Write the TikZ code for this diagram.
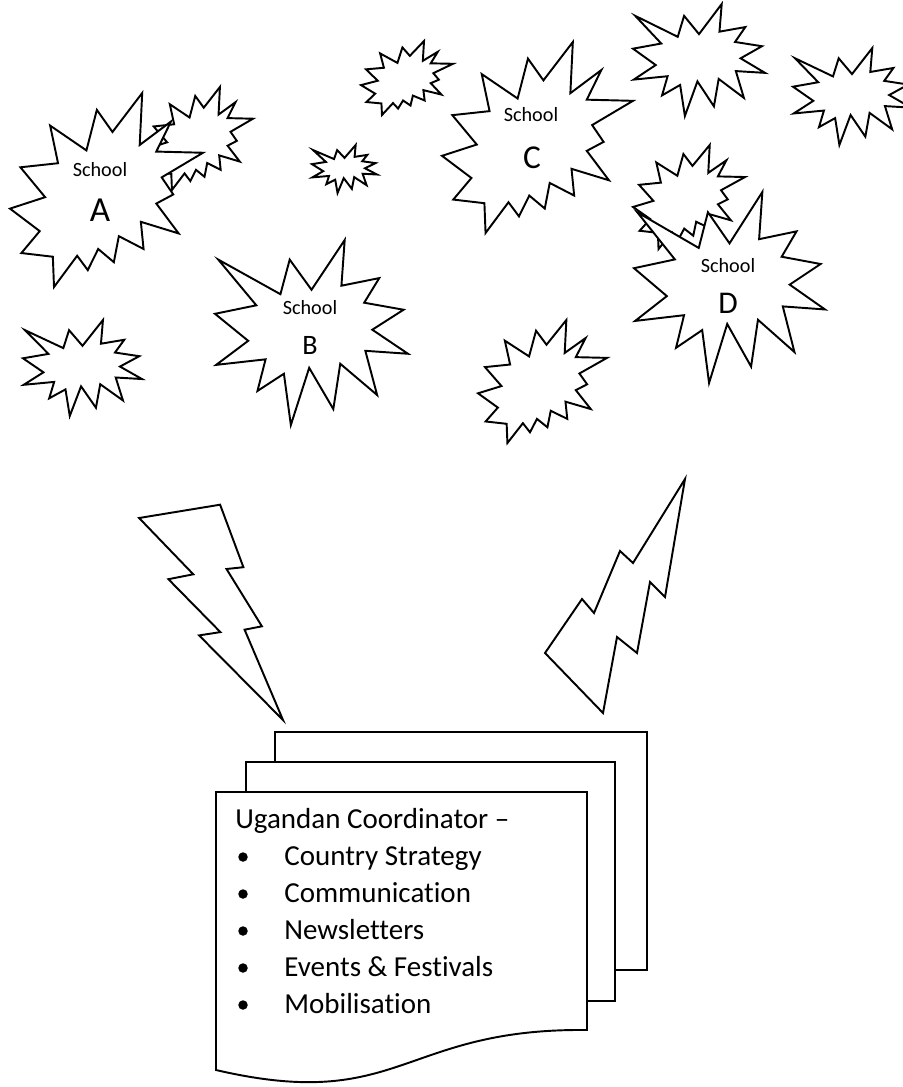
\documentclass[tikz,border=0pt]{standalone}
\usepackage{fontspec}
\setmainfont[Ligatures={TeX,NoCommon}]{Carlito}

% explosion shapes, drawn in a 100 x 100 box, then shifted and scaled
\newcommand{\burstone}[4]{%
	\begin{scope}[shift={(#1,#2)},xscale=#3/100,yscale=#4/100]
		\draw[burst] (50,26.9) -- (38.7,10.6) -- (33.9,29.3) -- (1.7,10.6) -- (21.4,35.3) -- (0,39.9)
			-- (17.2,54.5) -- (0.6,67.5) -- (26.2,64.5) -- (22,81.6) -- (35.7,72.3) -- (39.3,100)
			-- (48.8,69.1) -- (61.3,91.4) -- (64.9,66.9) -- (84,83.8) -- (77.9,59.9) -- (100,61.5)
			-- (81.5,48.5) -- (97.7,37.7) -- (77.3,33.9) -- (85.1,20.6) -- (65.5,24.7) -- (67.2,0) -- cycle;
	\end{scope}}
\newcommand{\bursttwo}[4]{%
	\begin{scope}[shift={(#1,#2)},xscale=#3/100,yscale=#4/100]
		\draw[burst] (53.1,20.1) -- (45,8.7) -- (39.6,29.6) -- (20.8,16.8) -- (24.9,36.2) -- (5.4,38.3)
			-- (18.2,53.7) -- (0,59.6) -- (15.4,71.2) -- (5.9,82.5) -- (22.2,84.4) -- (22.8,100)
			-- (34.8,83.9) -- (40.3,91.3) -- (45.7,80.4) -- (53.8,87.2) -- (56.4,73.8) -- (69.2,80.4)
			-- (67.8,66.4) -- (87.4,72.4) -- (75.8,57) -- (84.6,52.3) -- (78.6,43.5) -- (100,30.8)
			-- (75.8,30.2) -- (83.4,14.7) -- (67.2,26.8) -- (68.5,0) -- cycle;
	\end{scope}}

\begin{document}
\begin{tikzpicture}
	[x=0.02cm,y=-0.02cm,line cap=round,
	%Styles
	burst/.style={draw=black,fill=white,line width=1.1pt},
	bolt/.style={draw=black,fill=white,line width=1.1pt},
	page/.style={draw=black,fill=white,line width=1.1pt},
	school label/.style={inner sep=0pt,font=\fontsize{11.5}{14}\selectfont},
	letter label/.style={inner sep=0pt,font=\fontsize{#1}{#1}\selectfont},
	list text/.style={inner sep=0pt,anchor=base west,font=\fontsize{16.5}{20}\selectfont},
	bulletdot/.style={circle,fill=black,inner sep=0pt,minimum size=0.19cm}
	]
	\useasboundingbox (0,0) rectangle (902,1087);

	%The schools
	\bursttwo{148}{87}{105}{103}
	\bursttwo{10}{93}{193}{194}
	\burstone{312}{145}{65}{48}
	\bursttwo{361}{41}{92}{74}
	\bursttwo{442}{42}{191}{191}
	\burstone{633}{4}{132}{112}
	\burstone{793}{48}{118}{97}
	\bursttwo{633}{145}{112}{104}
	\burstone{634}{192}{191}{191}
	\burstone{215}{240}{193}{185}
	\burstone{23}{320}{119}{96}
	\bursttwo{478}{320}{129}{123}

	\node[school label] (schoolA) at (100,170) {School};
	\node[letter label=20] (letterA) at (100,210) {A};
	\node[school label] (schoolB) at (310,308) {School};
	\node[letter label=16] (letterB) at (310,345) {B};
	\node[school label] (schoolC) at (531,115) {School};
	\node[letter label=19] (letterC) at (532,158) {C};
	\node[school label] (schoolD) at (728,266) {School};
	\node[letter label=18] (letterD) at (728,303) {D};

	%Lightning
	\draw[bolt] (220.1,504.7) -- (139.1,518) -- (193.3,574.3) -- (168.4,579.2) -- (220.4,632.1)
		-- (199.1,635.4) -- (283,720) -- (244.6,629.7) -- (261.9,626.3) -- (226.5,569) -- (243.4,567.2) -- cycle;
	\draw[bolt] (685,479) -- (665,597) -- (650,582) -- (637,653) -- (617,637) -- (603,713)
		-- (545,653) -- (582,599) -- (594,613) -- (620,551) -- (633,563) -- cycle;

	%The coordinator pages
	\draw[page] (275,732) rectangle (647,970);
	\draw[page] (246,762) rectangle (615,1001);
	\draw[page] (216,792) -- (587,792) -- (587,1030) .. controls (401,1028) and (401,1113) .. (216,1070) -- cycle;

	\node[list text] (title) at (235,828) {Ugandan Coordinator --};
	\foreach \txt [count=\i] in {Country Strategy, Communication, Newsletters, Events \& Festivals, Mobilisation}
	{
		\node[list text] (item\i) at (284,828+37*\i) {\txt};
		\node[bulletdot] (bullet\i) at (243,820+37*\i) {};
	}
\end{tikzpicture}
\end{document}
